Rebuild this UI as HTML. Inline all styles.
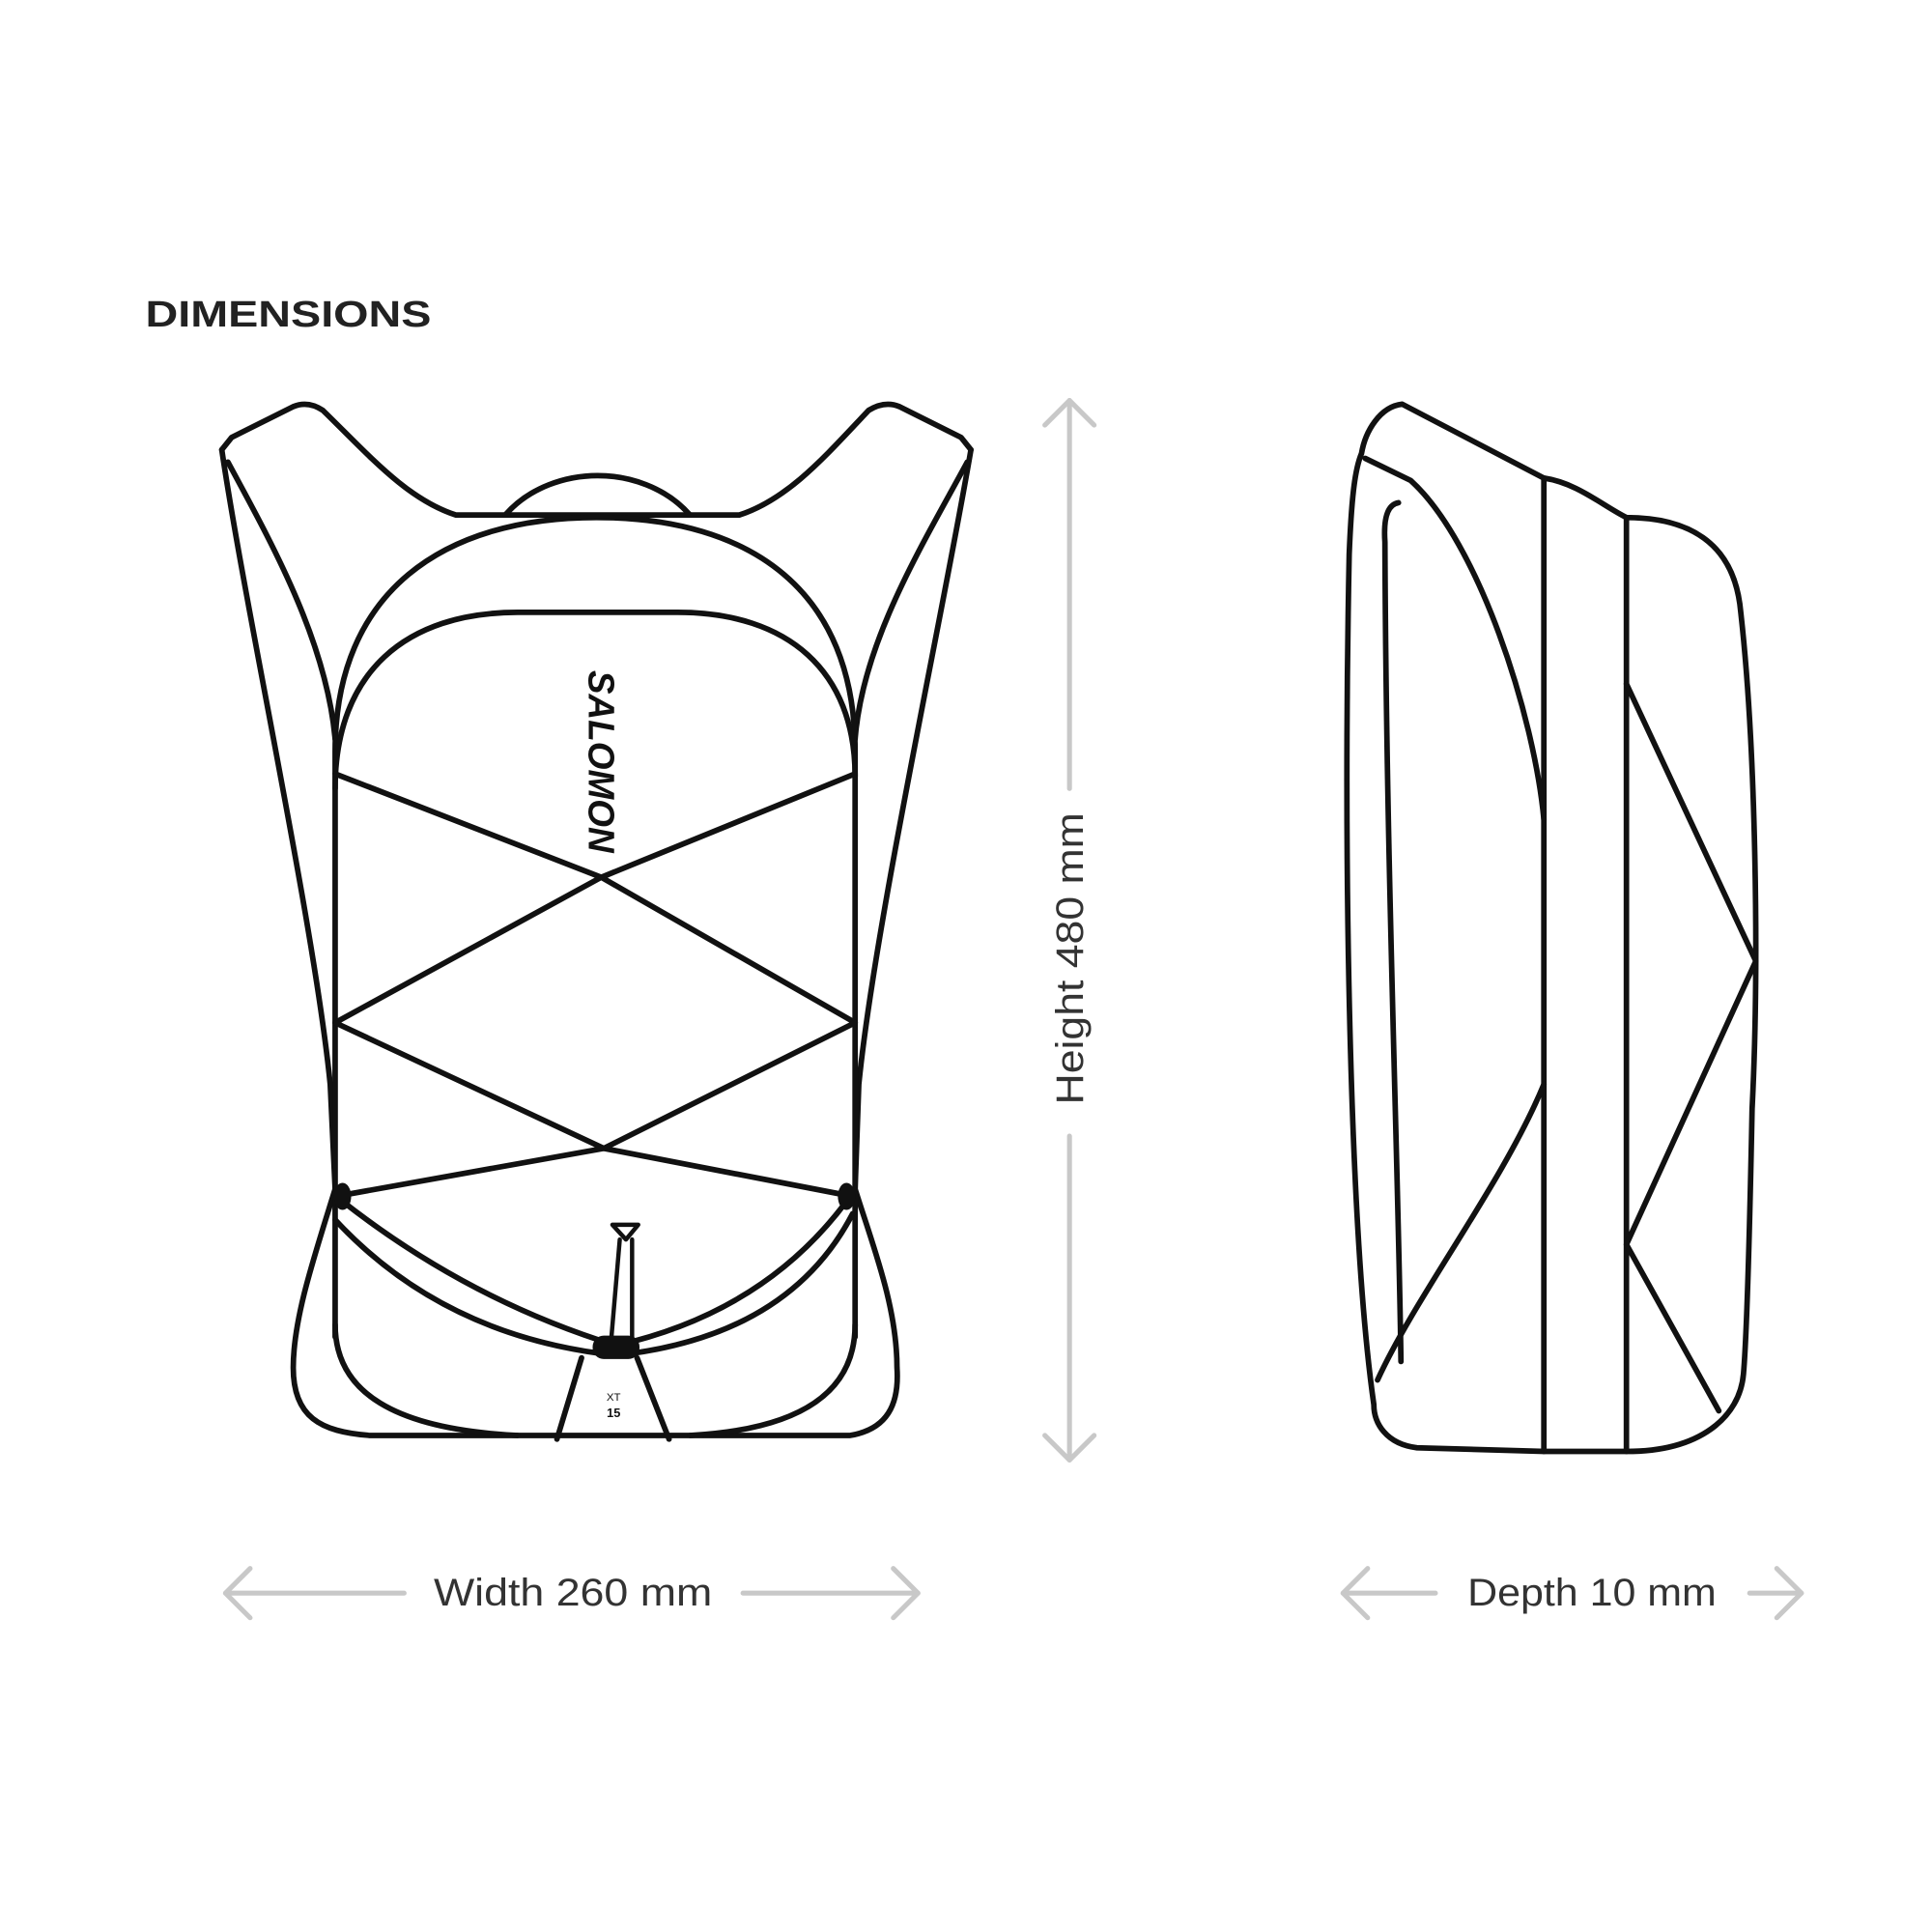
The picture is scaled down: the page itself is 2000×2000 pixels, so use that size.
<!DOCTYPE html>
<html><head><meta charset="utf-8"><style>
html,body{margin:0;padding:0;background:#fff;width:2000px;height:2000px;overflow:hidden}
svg{display:block}
</style></head><body>
<svg width="2000" height="2000" viewBox="0 0 1568 1568" xmlns="http://www.w3.org/2000/svg">
<rect width="1568" height="1568" fill="#fff"/>
<text x="118" y="265" font-family="Liberation Sans, sans-serif" font-weight="bold" font-size="30" fill="#222" textLength="232" lengthAdjust="spacingAndGlyphs">DIMENSIONS</text>

<g fill="none" stroke="#111" stroke-width="4.5" stroke-linejoin="round" stroke-linecap="round">
<path d="M180,365 L188,355 L238,330 Q250,325 262,333 C300,370 330,405 370,418 L600,418 C640,405 670,370 705,333 Q718,325 730,330 L780,355 L788,365"/>
<path d="M410,418 C430,395 460,386 485,386 C510,386 540,395 560,418"/>
<path d="M180,365 C200,500 255,750 268,880 L272,965 C255,1020 238,1070 238,1110 C238,1150 260,1162 300,1165 L690,1165 C720,1160 730,1140 728,1110 C728,1060 708,1010 694,965 L697,880 C710,750 765,500 788,365"/>
<path d="M185,375 C220,440 265,520 272,600"/>
<path d="M785,375 C750,440 700,520 694,600"/>
<path d="M272,1085 L272,610 C272,480 360,420 484,420 C610,420 694,480 694,610 L694,1085"/>
<path d="M272,1075 C272,1130 320,1160 420,1165"/>
<path d="M694,1075 C694,1130 650,1160 560,1165"/>
<path d="M272,640 C272,545 330,497 420,497 L550,497 C640,497 694,545 694,630"/>
<polyline points="272,628 488,712 694,830"/>
<polyline points="694,628 488,712 272,830"/>
<polyline points="272,830 490,932 687,970"/>
<polyline points="694,830 490,932 278,970"/>
<path d="M278,975 Q380,1055 500,1092 Q620,1065 687,975"/>
<path d="M272,990 Q360,1085 500,1100 Q640,1085 692,985"/>
<path d="M497,994 L518,994 L508,1006 Z" stroke-width="3.5"/>
<path d="M503,1006 L496,1088 M513,1006 L513,1088" stroke-width="3.5"/>
<path d="M472,1102 L452,1168 M517,1102 L543,1168"/>
<path d="M1105,368 C1108,350 1120,330 1138,328 L1253,388 C1280,392 1300,410 1320,420 C1370,420 1405,440 1412,490 C1425,600 1428,780 1422,900 C1420,1000 1418,1080 1415,1115 C1412,1150 1380,1178 1320,1178 L1253,1178 L1150,1175 C1125,1172 1115,1155 1115,1140 C1095,1000 1090,700 1095,450 C1097,400 1100,380 1105,368 Z"/>
<path d="M1253,388 L1253,1178 M1320,420 L1320,1178"/>
<path d="M1135,408 Q1122,410 1124,440 C1125,700 1135,950 1137,1105"/>
<path d="M1108,372 L1145,390 C1200,440 1245,580 1253,665"/>
<path d="M1253,880 C1220,960 1150,1050 1118,1120"/>
<polyline points="1320,555 1425,780 1320,1010 1395,1145"/>
</g>
<ellipse cx="278" cy="971" rx="7" ry="11" fill="#111"/>
<ellipse cx="687" cy="971" rx="7" ry="11" fill="#111"/>
<rect x="481" y="1084" width="38" height="19" rx="9" fill="#111"/>
<text transform="translate(478,618) rotate(90)" text-anchor="middle" font-family="Liberation Sans, sans-serif" font-weight="bold" font-style="italic" font-size="30" fill="#111" textLength="148" lengthAdjust="spacingAndGlyphs">SALOMON</text>
<text x="498" y="1137" text-anchor="middle" font-family="Liberation Sans, sans-serif" font-size="9" fill="#111">XT</text>
<text x="498" y="1150" text-anchor="middle" font-family="Liberation Sans, sans-serif" font-weight="bold" font-size="10" fill="#111">15</text>

<g fill="none" stroke="#c8c8c8" stroke-width="4" stroke-linecap="round" stroke-linejoin="round">
<path d="M868,325 L868,640 M868,922 L868,1185"/>
<path d="M848,345 L868,325 L888,345 M848,1165 L868,1185 L888,1165"/>
<path d="M183,1293 L328,1293 M603,1293 L745,1293"/>
<path d="M203,1273 L183,1293 L203,1313 M725,1273 L745,1293 L725,1313"/>
<path d="M1090,1293 L1165,1293 M1420,1293 L1462,1293"/>
<path d="M1110,1273 L1090,1293 L1110,1313 M1442,1273 L1462,1293 L1442,1313"/>
</g>
<g font-family="Liberation Sans, sans-serif" font-size="31" fill="#333">
<text x="465" y="1303" text-anchor="middle" textLength="226" lengthAdjust="spacingAndGlyphs">Width 260 mm</text>
<text x="1292" y="1303" text-anchor="middle" textLength="202" lengthAdjust="spacingAndGlyphs">Depth 10 mm</text>
<text transform="translate(879,778) rotate(-90)" text-anchor="middle" textLength="237" lengthAdjust="spacingAndGlyphs">Height 480 mm</text>
</g>
</svg>
</body></html>
